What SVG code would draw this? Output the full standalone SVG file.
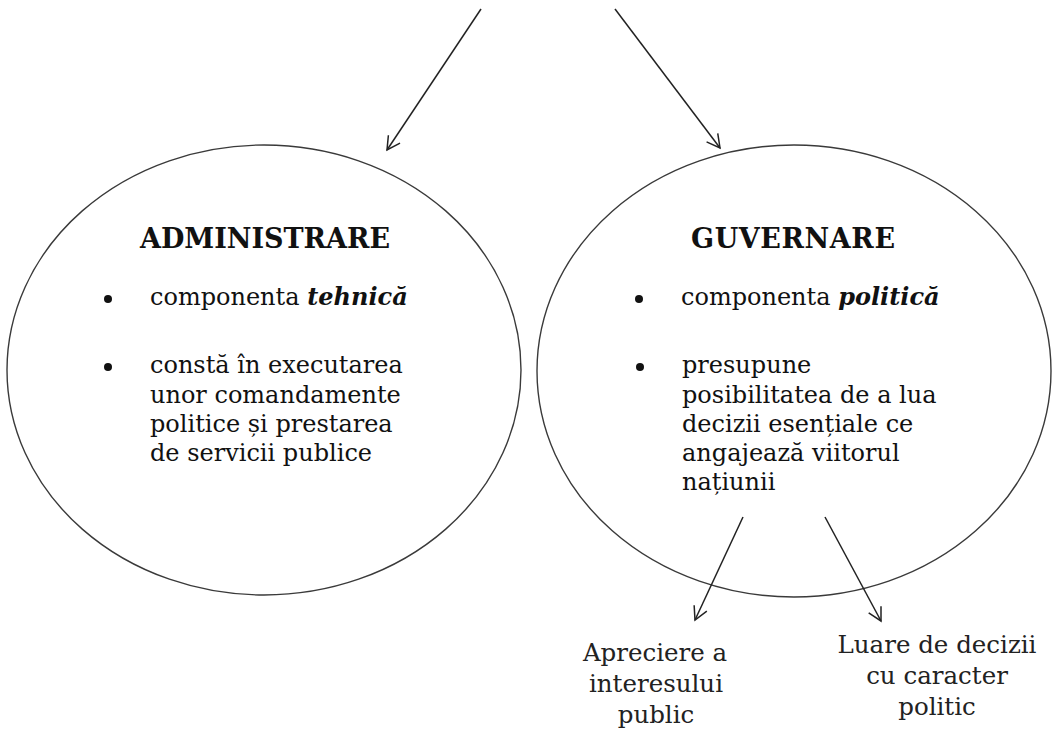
<svg xmlns="http://www.w3.org/2000/svg" width="1057" height="734" viewBox="0 0 1057 734">
  <style>
    .ell { fill: none; stroke: #3a3a3a; stroke-width: 1.4; }
    .head { font-family: "DejaVu Serif", "Liberation Serif", serif; font-weight: bold; font-size: 27px; fill: #111; text-anchor: middle; }
    .body { font-family: "DejaVu Serif", "Liberation Serif", serif; font-size: 24px; fill: #111; }
    .em { font-weight: bold; font-style: italic; }
    .lbl { font-family: "DejaVu Serif", "Liberation Serif", serif; font-size: 24.5px; fill: #222; text-anchor: middle; }
    .bul { fill: #111; }
    .conn line { stroke: #222; stroke-width: 1.5; marker-end: url(#arrow); }
  </style>
  <defs>
    <marker id="arrow" markerUnits="userSpaceOnUse" markerWidth="30" markerHeight="30" viewBox="-15 -15 30 30" refX="0" refY="0" orient="auto">
      <path d="M-13,-7 L0,0 L-13,7" fill="none" stroke="#222" stroke-width="1.5"/>
    </marker>
  </defs>
  <rect width="1057" height="734" fill="#fff"/>

  <g id="administrare">
    <ellipse class="ell" cx="264" cy="370" rx="257" ry="225"/>
    <text class="head" x="265" y="248" textLength="250">ADMINISTRARE</text>
    <circle class="bul" cx="108" cy="299" r="4"/>
    <text class="body" x="150" y="305">componenta <tspan class="em">tehnică</tspan></text>
    <circle class="bul" cx="108" cy="367" r="4"/>
    <text class="body" x="150" y="373">constă în executarea</text>
    <text class="body" x="150" y="403">unor comandamente</text>
    <text class="body" x="150" y="432">politice și prestarea</text>
    <text class="body" x="150" y="461">de servicii publice</text>
  </g>

  <g id="guvernare">
    <ellipse class="ell" cx="794" cy="371" rx="257" ry="226"/>
    <text class="head" x="793" y="248" textLength="204">GUVERNARE</text>
    <circle class="bul" cx="639" cy="299" r="4"/>
    <text class="body" x="681" y="305">componenta <tspan class="em">politică</tspan></text>
    <circle class="bul" cx="640" cy="367" r="4"/>
    <text class="body" x="682" y="373">presupune</text>
    <text class="body" x="682" y="403">posibilitatea de a lua</text>
    <text class="body" x="682" y="432">decizii esențiale ce</text>
    <text class="body" x="682" y="461">angajează viitorul</text>
    <text class="body" x="682" y="490">națiunii</text>
  </g>

  <g id="apreciere">
    <text class="lbl" x="655" y="661">Apreciere a</text>
    <text class="lbl" x="656" y="692">interesului</text>
    <text class="lbl" x="656" y="723">public</text>
  </g>

  <g id="luare">
    <text class="lbl" x="937" y="653">Luare de decizii</text>
    <text class="lbl" x="937" y="684">cu caracter</text>
    <text class="lbl" x="937" y="715">politic</text>
  </g>

  <g id="connectors" class="conn">
    <line x1="481" y1="9" x2="387" y2="150"/>
    <line x1="615" y1="9" x2="720" y2="148"/>
    <line x1="743" y1="517" x2="695" y2="620"/>
    <line x1="825" y1="517" x2="881" y2="621"/>
  </g>
</svg>
